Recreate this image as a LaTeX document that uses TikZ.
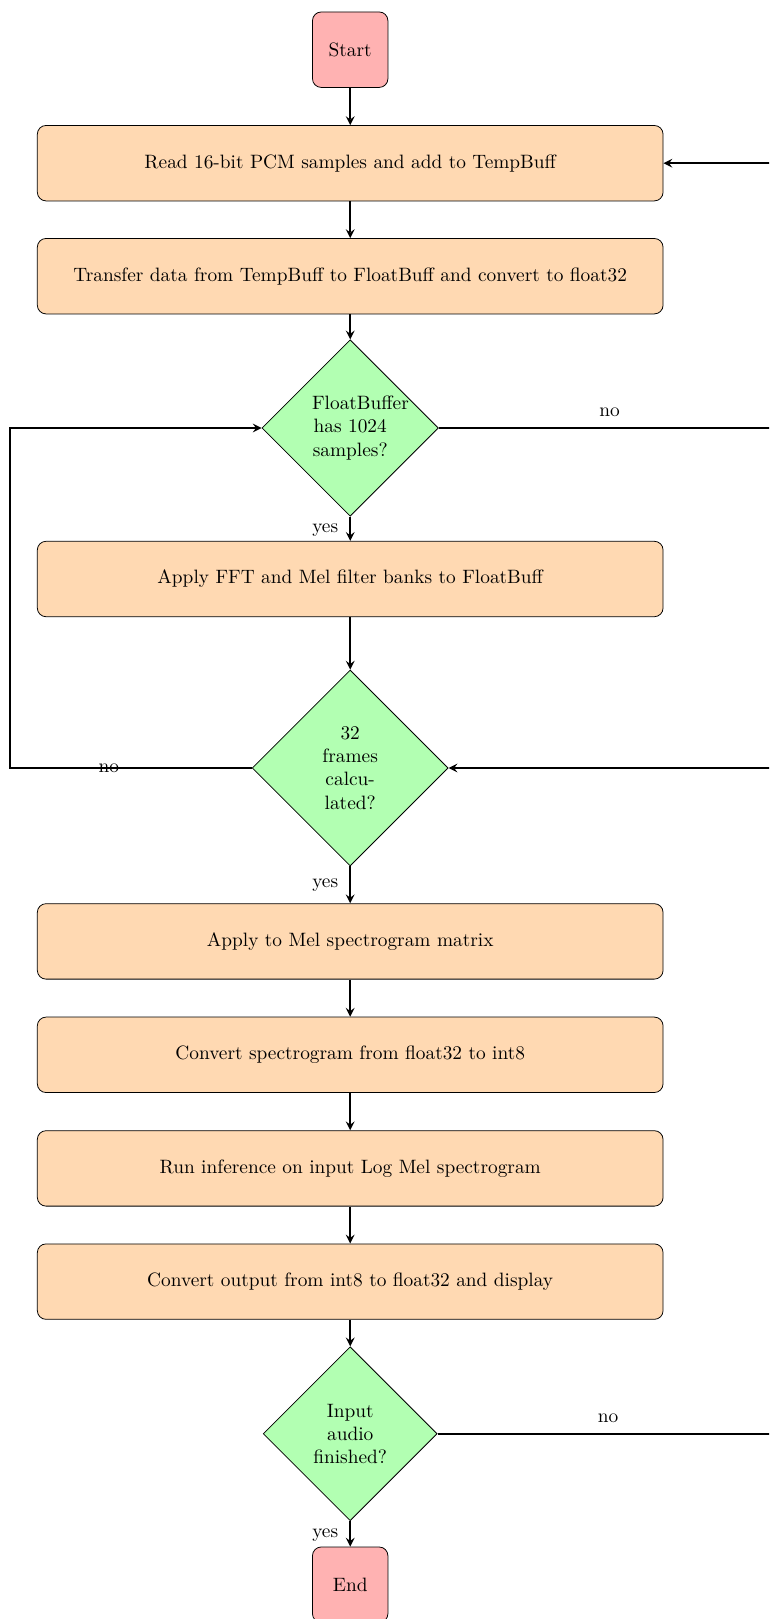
\documentclass[tikz,border=0pt]{standalone}
\usetikzlibrary{shapes.geometric}
\begin{document}
\begin{tikzpicture}[x=0.517pt,y=-0.517pt,
  term/.style={draw, rounded corners=4.5pt, fill=red!30, minimum width=39pt, minimum height=39pt, inner sep=2pt},
  proc/.style={draw, rounded corners=4.5pt, fill=orange!30, minimum width=323.5pt, minimum height=39pt},
  dec/.style={draw, diamond, aspect=1, fill=green!30, text width=39.4pt, align=center, inner sep=0pt},
  conn/.style={line width=1pt, -stealth},
  lbl/.style={inner sep=0pt}]
\clip (0,0) rectangle (769,1619);
\node[term] (start) at (350.2,49.7) {Start};
\node[proc] (read) at (350.2,163.2) {Read 16-bit PCM samples and add to TempBuff};
\node[proc] (transfer) at (350.2,276.2) {Transfer data from TempBuff to FloatBuff and convert to float32};
\node[dec, minimum width=91.2pt, minimum height=91.2pt] (d1) at (350.2,428) {FloatBuffer has 1024 samples?};
\node[proc] (fft) at (350.2,579) {Apply FFT and Mel filter banks to FloatBuff};
\node[dec, minimum width=101.3pt, minimum height=101.3pt] (d2) at (350.2,768) {32 frames calculated?};
\node[proc] (mel) at (350.2,941.4) {Apply to Mel spectrogram matrix};
\node[proc] (conv) at (350.2,1054.8) {Convert spectrogram from float32 to int8};
\node[proc] (run) at (350.2,1168.4) {Run inference on input Log Mel spectrogram};
\node[proc] (out) at (350.2,1281.6) {Convert output from int8 to float32 and display};
\node[dec, minimum width=89.9pt, minimum height=89.9pt] (d3) at (350.2,1433.7) {Input audio finished?};
\node[term] (end) at (350.2,1584.7) {End};

\coordinate (L2) at (9.8,768);
\coordinate (R1) at (790,428);
\coordinate (R3) at (780,1433.7);

\draw[conn] (start) -- (read);
\draw[conn] (read) -- (transfer);
\draw[conn] (transfer) -- (d1);
\draw[conn] (d1) -- (fft);
\draw[conn] (fft) -- (d2);
\draw[conn] (d2) -- (mel);
\draw[conn] (mel) -- (conv);
\draw[conn] (conv) -- (run);
\draw[conn] (run) -- (out);
\draw[conn] (out) -- (d3);
\draw[conn] (d3) -- (end);
\draw[conn] (d2.west) -- (L2) |- (d1.west);
\draw[conn] (d1.east) -- (R1) |- (read.east);
\draw[conn] (d3.east) -- (R3) |- (d2.east);

\node[lbl] (yes1) at (325.2,530) {yes};
\node[lbl] (yes2) at (325.2,885.5) {yes};
\node[lbl] (yes3) at (325.2,1535) {yes};
\node[lbl] (no1) at (609.6,412.5) {no};
\node[lbl] (no2) at (108.9,768) {no};
\node[lbl] (no3) at (608,1418.5) {no};
\end{tikzpicture}
\end{document}
